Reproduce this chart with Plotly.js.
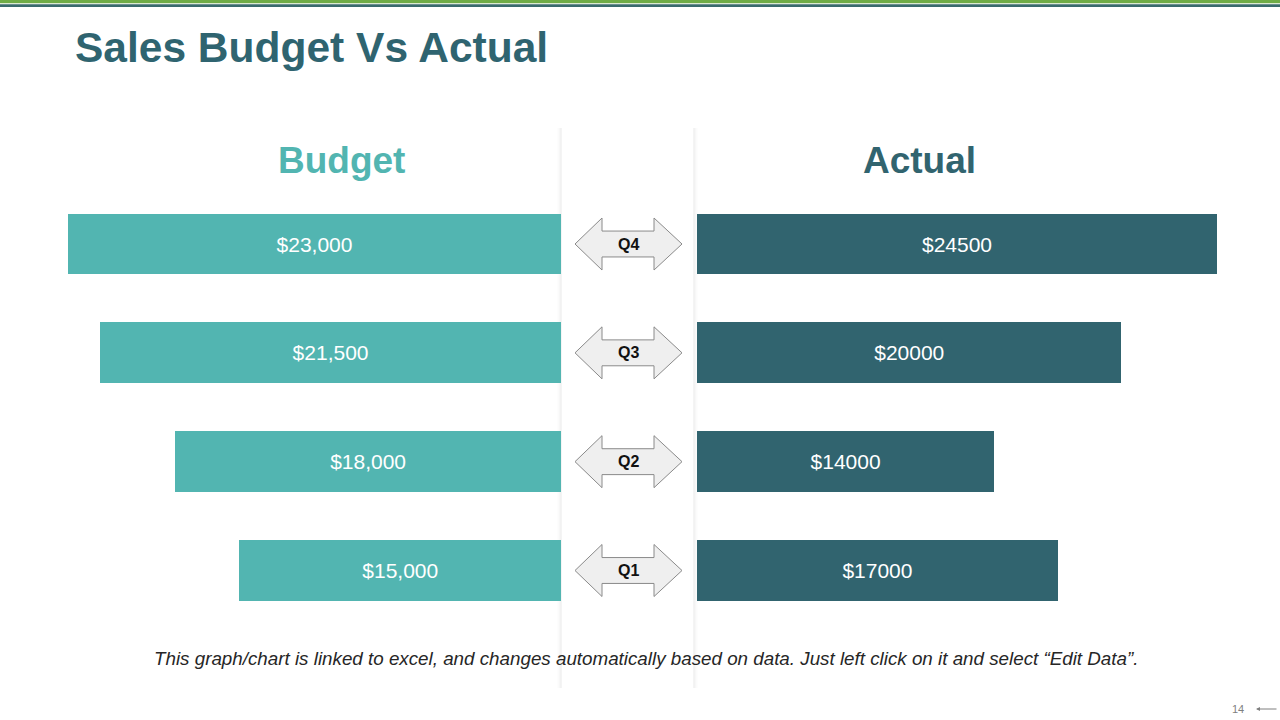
<!DOCTYPE html>
<html>
<head>
<meta charset="utf-8">
<script src="https://cdn.plot.ly/plotly-3.0.1.min.js"></script>
<style>
  html, body { margin: 0; padding: 0; background: #ffffff; }
  #chart { width: 1280px; height: 720px; }
</style>
</head>
<body>
<div id="chart"></div>
<script>
// Quarterly sales: budget vs actual
const quarters = ['Q1', 'Q2', 'Q3', 'Q4'];
const budget = [15000, 18000, 21500, 23000];
const actual = [17000, 14000, 20000, 24500];

const W = 1280, H = 720;
const px = v => v / W;            // horizontal pixel -> paper fraction
const py = v => 1 - v / H;        // vertical pixel -> paper fraction

const BUDGET = '#52b5b1';
const ACTUAL = '#31646f';
const FONT = 'Liberation Sans, Arial, sans-serif';

const yIdx = quarters.map((q, i) => i);

const traces = [
  {
    type: 'bar', orientation: 'h', name: 'Budget',
    y: yIdx, x: budget, xaxis: 'x', yaxis: 'y',
    width: 0.56,
    marker: { color: BUDGET, line: { width: 0 } },
    texttemplate: '$%{x:,.0f}', textposition: 'inside', insidetextanchor: 'middle',
    textangle: 0, constraintext: 'none',
    textfont: { family: FONT, size: 21, color: '#ffffff' },
    hoverinfo: 'skip'
  },
  {
    type: 'bar', orientation: 'h', name: 'Actual',
    y: yIdx, x: actual, xaxis: 'x2', yaxis: 'y',
    width: 0.56,
    marker: { color: ACTUAL, line: { width: 0 } },
    texttemplate: '$%{x:.0f}', textposition: 'inside', insidetextanchor: 'middle',
    textangle: 0, constraintext: 'none',
    textfont: { family: FONT, size: 21, color: '#ffffff' },
    hoverinfo: 'skip'
  }
];

// Double-headed arrow around each quarter label
function arrowPath(i) {
  const hh = 0.239, sh = 0.119;
  const xl = px(575), xlb = px(602), xrb = px(654), xr = px(682);
  return 'M ' + xl + ' ' + i +
    ' L ' + xlb + ' ' + (i + hh) +
    ' L ' + xlb + ' ' + (i + sh) +
    ' L ' + xrb + ' ' + (i + sh) +
    ' L ' + xrb + ' ' + (i + hh) +
    ' L ' + xr + ' ' + i +
    ' L ' + xrb + ' ' + (i - hh) +
    ' L ' + xrb + ' ' + (i - sh) +
    ' L ' + xlb + ' ' + (i - sh) +
    ' L ' + xlb + ' ' + (i - hh) + ' Z';
}

const shapes = [
  // header stripes
  { type: 'rect', xref: 'paper', yref: 'paper', x0: 0, x1: 1, y0: py(3.3), y1: py(0), fillcolor: '#6fac46', line: { width: 0 }, layer: 'below' },
  { type: 'rect', xref: 'paper', yref: 'paper', x0: 0, x1: 1, y0: py(7), y1: py(4.3), fillcolor: '#3a6b6d', line: { width: 0 }, layer: 'below' },
];

// soft edges of the centre panel
[[561, 0.06], [559.5, 0.03], [558, 0.012], [694, 0.06], [695.5, 0.03], [697, 0.012]].forEach(([x, a]) => {
  shapes.push({ type: 'line', xref: 'paper', yref: 'paper', x0: px(x), x1: px(x), y0: py(128), y1: py(688),
    line: { color: 'rgba(0,0,0,' + a + ')', width: 1.5 }, layer: 'below' });
});

yIdx.forEach(i => {
  shapes.push({ type: 'path', xref: 'paper', yref: 'y', path: arrowPath(i),
    fillcolor: '#efefef', line: { color: '#8a8a8a', width: 1 }, layer: 'above' });
});

const annotations = [
  { xref: 'paper', yref: 'paper', x: px(341), y: py(160), text: '<b>Budget</b>', showarrow: false,
    xanchor: 'center', yanchor: 'middle', font: { family: FONT, size: 37, color: '#52b5b1' } },
  { xref: 'paper', yref: 'paper', x: px(919), y: py(160), text: '<b>Actual</b>', showarrow: false,
    xanchor: 'center', yanchor: 'middle', font: { family: FONT, size: 37, color: '#31646f' } },
  { xref: 'paper', yref: 'paper', x: px(646), y: py(658),
    text: '<i>This graph/chart is linked to excel, and changes automatically based on data. Just left click on it and select \u201cEdit Data\u201d.</i>',
    showarrow: false, xanchor: 'center', yanchor: 'middle', font: { family: FONT, size: 18.8, color: '#262626' } },
  { xref: 'paper', yref: 'paper', x: px(1238), y: py(709), text: '14', showarrow: false,
    xanchor: 'center', yanchor: 'middle', font: { family: FONT, size: 11, color: '#7f7f7f' } },
  { xref: 'paper', yref: 'paper', x: px(1256), y: py(709), ax: 22, ay: 0, text: '', showarrow: true,
    arrowhead: 2, arrowsize: 0.8, arrowwidth: 1, arrowcolor: '#7f7f7f' }
];

quarters.forEach((q, i) => {
  annotations.push({ xref: 'paper', yref: 'y', x: px(628), y: i, text: '<b>' + q + '</b>', showarrow: false,
    xanchor: 'center', yanchor: 'middle', font: { family: FONT, size: 16, color: '#111111' } });
});

const layout = {
  width: W, height: H,
  margin: { l: 0, r: 0, t: 0, b: 0, pad: 0 },
  paper_bgcolor: '#ffffff', plot_bgcolor: 'rgba(0,0,0,0)',
  showlegend: false,
  bargap: 0,
  title: {
    text: '<b>Sales Budget Vs Actual</b>',
    xref: 'paper', yref: 'paper', x: px(75), y: py(47), xanchor: 'left', yanchor: 'middle',
    font: { family: FONT, size: 42.5, color: '#2f6470' }
  },
  xaxis: { domain: [0, px(561)], range: [561 * 23000 / 493, 0], visible: false, fixedrange: true },
  xaxis2: { domain: [px(697), 1], range: [0, 583 * 24500 / 520], visible: false, anchor: 'y', fixedrange: true },
  yaxis: { domain: [0, 1], range: [(570.5 - 720) / 108.83, 570.5 / 108.83], visible: false, fixedrange: true },
  shapes: shapes,
  annotations: annotations
};

Plotly.newPlot('chart', traces, layout, { displayModeBar: false, staticPlot: true });
</script>
</body>
</html>
